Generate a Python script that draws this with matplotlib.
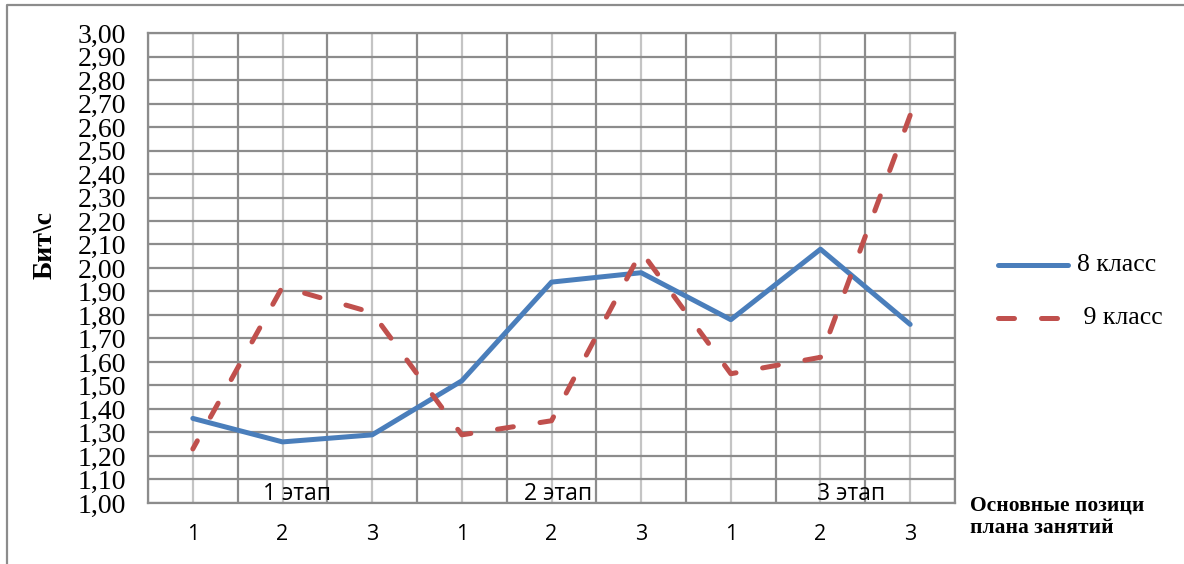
import matplotlib
matplotlib.use("Agg")
import matplotlib.pyplot as plt
from matplotlib.lines import Line2D
import numpy as np

# positions of the lesson plan within each stage
positions = ["1", "2", "3", "1", "2", "3", "1", "2", "3"]
stages = ["1 этап", "2 этап", "3 этап"]
stage_x = [1.66, 4.57, 7.84]

class8 = [1.36, 1.26, 1.29, 1.52, 1.94, 1.98, 1.78, 2.08, 1.76]
class9 = [1.23, 1.92, 1.81, 1.29, 1.35, 2.07, 1.55, 1.62, 2.65]

blue = "#4a7ebb"
red = "#c0504d"
dark_grid = "#8c8c8c"
light_grid = "#c4c4c4"

serif = ["Liberation Serif", "DejaVu Serif"]
sans = ["Open Sans", "DejaVu Sans"]

lw = 3.6
dash = (3.2, 5.4)

fig = plt.figure(figsize=(11.84, 5.64), dpi=100)
ax = fig.add_axes([148 / 1184, 61 / 564, 807 / 1184, 470 / 564])

x = np.arange(len(positions)) + 0.5

ax.plot(x, class8, color=blue, lw=lw, solid_capstyle="round",
        solid_joinstyle="round", zorder=3)
# dashed series drawn from the last point so a dash lands on the peak
ax.plot(x[::-1], class9[::-1], color=red, lw=lw, dashes=dash,
        dash_capstyle="round", dash_joinstyle="round", zorder=3)

ax.set_xlim(0, len(positions))
ax.set_ylim(1.0, 3.0)

# y grid every 0.1, category boundaries dark, centres light
yt = np.arange(1.0, 3.001, 0.1)
ax.set_yticks(yt)
ax.set_yticklabels([f"{v:.2f}".replace(".", ",") for v in yt],
                   family=serif, fontsize=20)
ax.set_xticks(x)
ax.set_xticklabels(positions, family=sans, fontsize=15.5)
ax.set_xticks(np.arange(0, len(positions) + 1), minor=True)
ax.tick_params(axis="both", which="both", length=0)
ax.tick_params(axis="x", pad=15)
ax.tick_params(axis="y", pad=16)

ax.grid(axis="y", color=dark_grid, lw=1.6)
ax.grid(axis="x", which="major", color=light_grid, lw=1.6)
ax.grid(axis="x", which="minor", color=dark_grid, lw=1.6)
ax.set_axisbelow(True)
for s in ax.spines.values():
    s.set_color(dark_grid)
    s.set_linewidth(1.6)

for sx, label in zip(stage_x, stages):
    ax.text(sx, 1.037, label, ha="center", va="center", family=sans,
            fontsize=16.5, zorder=4)

# axis titles
fig.text(45 / 1184, 1 - 245 / 564, "Бит\\с", rotation=90, ha="center",
         va="center", family=serif, fontweight="bold", fontsize=20)
fig.text(970 / 1184, 1 - 517 / 564, "Основные позици\nплана занятий",
         ha="left", va="center", family=serif, fontweight="bold",
         fontsize=15.5, linespacing=1.15)

# legend
fig.add_artist(Line2D([998 / 1184, 1068 / 1184], [1 - 265 / 564] * 2,
                      color=blue, lw=lw, solid_capstyle="round"))
fig.add_artist(Line2D([998 / 1184, 1068 / 1184], [1 - 318 / 564] * 2,
                      color=red, lw=lw, dashes=dash, dash_capstyle="round"))
fig.text(1077 / 1184, 1 - 265 / 564, "8 класс", ha="left", va="center",
         family=serif, fontsize=18.5)
fig.text(1077 / 1184, 1 - 318 / 564, " 9 класс", ha="left", va="center",
         family=serif, fontsize=18.5)

# outer chart frame
fig.add_artist(Line2D([7 / 1184, 7 / 1184, 1.0], [0.0, 1 - 5 / 564, 1 - 5 / 564],
                      color="#8c8c8c", lw=1.6))

fig.savefig("out.png", dpi=100)
